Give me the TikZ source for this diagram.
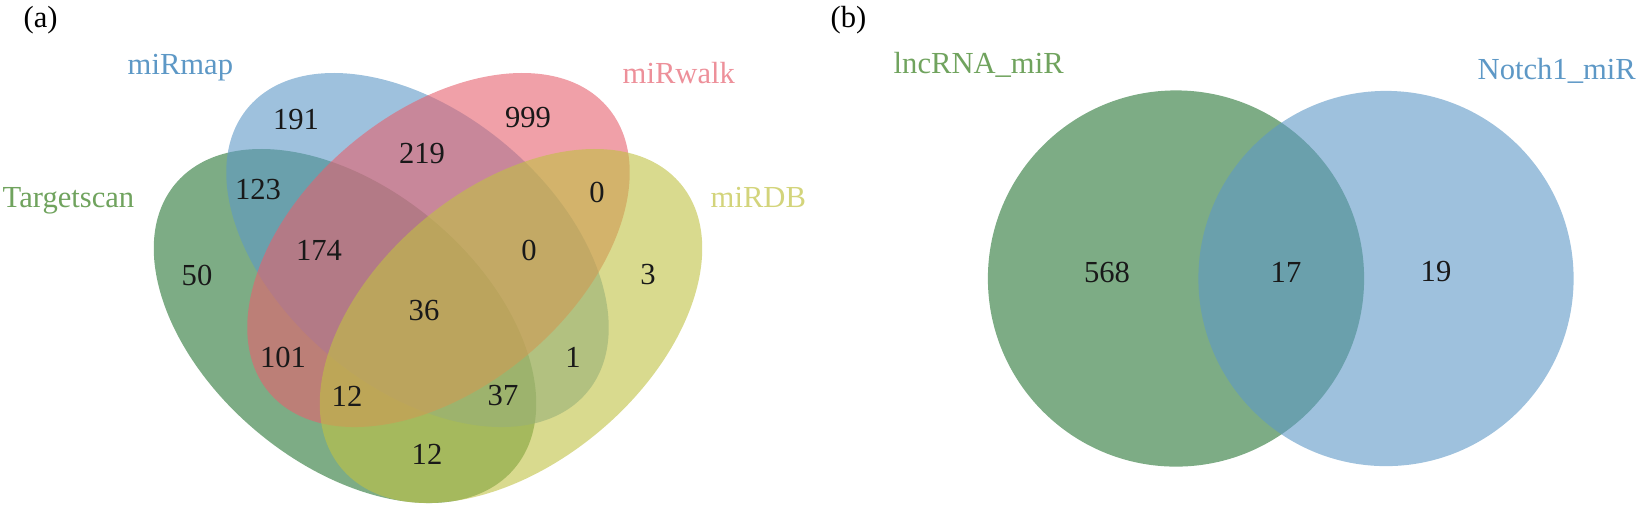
\documentclass[tikz,border=0pt]{standalone}
\usepackage{fontspec}
\setmainfont{Liberation Serif}
\definecolor{scangreen}{RGB}{38,117,52}
\definecolor{mapblue}{RGB}{93,152,198}
\definecolor{walkred}{RGB}{230,97,110}
\definecolor{dbyellow}{RGB}{192,193,67}
\definecolor{labgreen}{RGB}{112,163,94}
\begin{document}
\begin{tikzpicture}[
                    x = 0.01cm,
                    y = -0.01cm,
                    font = \fontsize{8.7}{10}\selectfont,
                    set/.style   = {fill opacity = 0.6},
                    oval/.style  = {x radius = 2.212cm, y radius = 1.374cm},
                    count/.style = {inner sep = 0pt, text = black!90},
                    title/.style = {inner sep = 0pt, anchor = base west}]
    \useasboundingbox (0,0) rectangle (1639,520);
    % (a) four sets
    \fill[set, scangreen] (345,326)   ellipse [oval, rotate = -40];
    \fill[set, mapblue]   (417.5,250) ellipse [oval, rotate = -40];
    \fill[set, walkred]   (438.5,250) ellipse [oval, rotate = 40];
    \fill[set, dbyellow]  (511,326)   ellipse [oval, rotate = 40];
    \node[title]                          (a)    at (23,27.5)  {(a)};
    \node[title, text = mapblue]          (map)  at (127,74)   {miRmap};
    \node[title, text = walkred!70]       (walk) at (622,83)   {miRwalk};
    \node[title, text = labgreen]         (scan) at (2,207)    {Targetscan};
    \node[title, text = dbyellow!70]      (db)   at (710,207)  {miRDB};
    \node[count] (B)    at (296,120) {191};
    \node[count] (C)    at (528,118) {999};
    \node[count] (BC)   at (422,154) {219};
    \node[count] (AB)   at (258,190) {123};
    \node[count] (CD)   at (597,192) {0};
    \node[count] (ABC)  at (319,250) {174};
    \node[count] (BCD)  at (529,250) {0};
    \node[count] (A)    at (197,275) {50};
    \node[count] (D)    at (648,275) {3};
    \node[count] (ABCD) at (424,311) {36};
    \node[count] (AC)   at (283,357) {101};
    \node[count] (BD)   at (573,357) {1};
    \node[count] (ACD)  at (347,396) {12};
    \node[count] (ABD)  at (503,396) {37};
    \node[count] (AD)   at (427,454) {12};
    % (b) two sets
    \fill[set, scangreen] (1176,278.5) circle [radius = 1.88cm];
    \fill[set, mapblue]   (1386,278.5) circle [radius = 1.875cm];
    \node[title]                          (b)     at (830,27.5) {(b)};
    \node[title, text = labgreen]         (lnc)   at (893,73)   {lncRNA\_miR};
    \node[title, text = mapblue]          (notch) at (1477,79)  {Notch1\_miR};
    \node[count] (L)  at (1107,272) {568};
    \node[count] (LN) at (1286,272) {17};
    \node[count] (N)  at (1436,272) {19};
\end{tikzpicture}
\end{document}
